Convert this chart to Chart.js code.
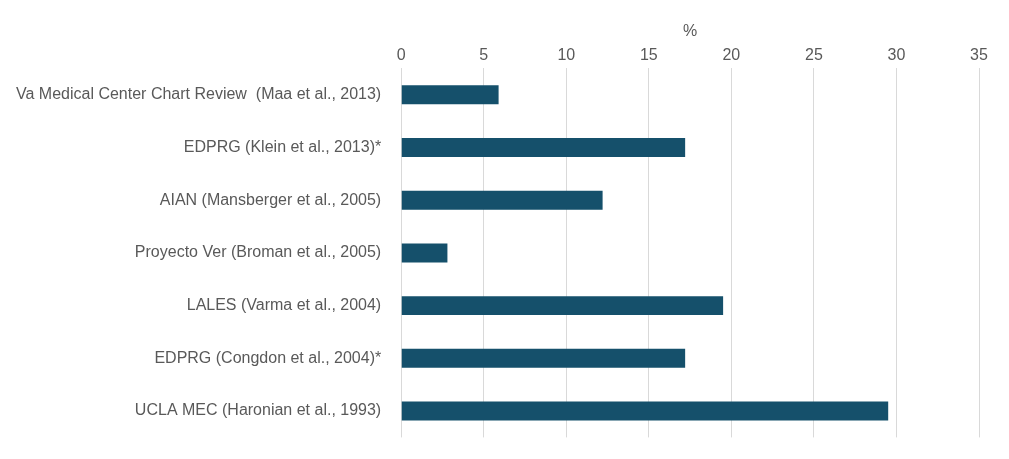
<!DOCTYPE html>
<html>
<head>
<script src="https://cdn.jsdelivr.net/npm/chart.js@4"></script>
<style>
  body { margin: 0; background: #fff; }
</style>
</head>
<body>
<canvas id="chart" width="1009" height="459"></canvas>
<script>
const studies = [
  "Va Medical Center Chart Review  (Maa et al., 2013)",
  "EDPRG (Klein et al., 2013)*",
  "AIAN (Mansberger et al., 2005)",
  "Proyecto Ver (Broman et al., 2005)",
  "LALES (Varma et al., 2004)",
  "EDPRG (Congdon et al., 2004)*",
  "UCLA MEC (Haronian et al., 1993)"
];
const percents = [5.9, 17.2, 12.2, 2.8, 19.5, 17.2, 29.5];

new Chart("chart", {
  type: "bar",
  data: {
    labels: studies,
    datasets: [{
      data: percents,
      backgroundColor: "#15506b",
      barPercentage: 0.36,
      categoryPercentage: 1
    }]
  },
  options: {
    indexAxis: "y",
    responsive: false,
    animation: false,
    layout: { padding: { top: 18, right: 30, bottom: 14, left: 4 } },
    plugins: { legend: { display: false }, tooltip: { enabled: false } },
    scales: {
      x: {
        position: "top",
        min: 0, max: 35,
        ticks: { stepSize: 5, color: "#595959", font: { family: "Liberation Sans", size: 16 } },
        grid: { color: "#d9d9d9", drawTicks: false },
        border: { display: false },
        title: { display: true, text: "%", color: "#595959", font: { family: "Liberation Sans", size: 16 }, padding: { bottom: 2 } }
      },
      y: {
        ticks: { color: "#595959", font: { family: "Liberation Sans", size: 16 }, padding: 12 },
        grid: { display: false },
        border: { display: false }
      }
    }
  }
});
</script>
</body>
</html>
